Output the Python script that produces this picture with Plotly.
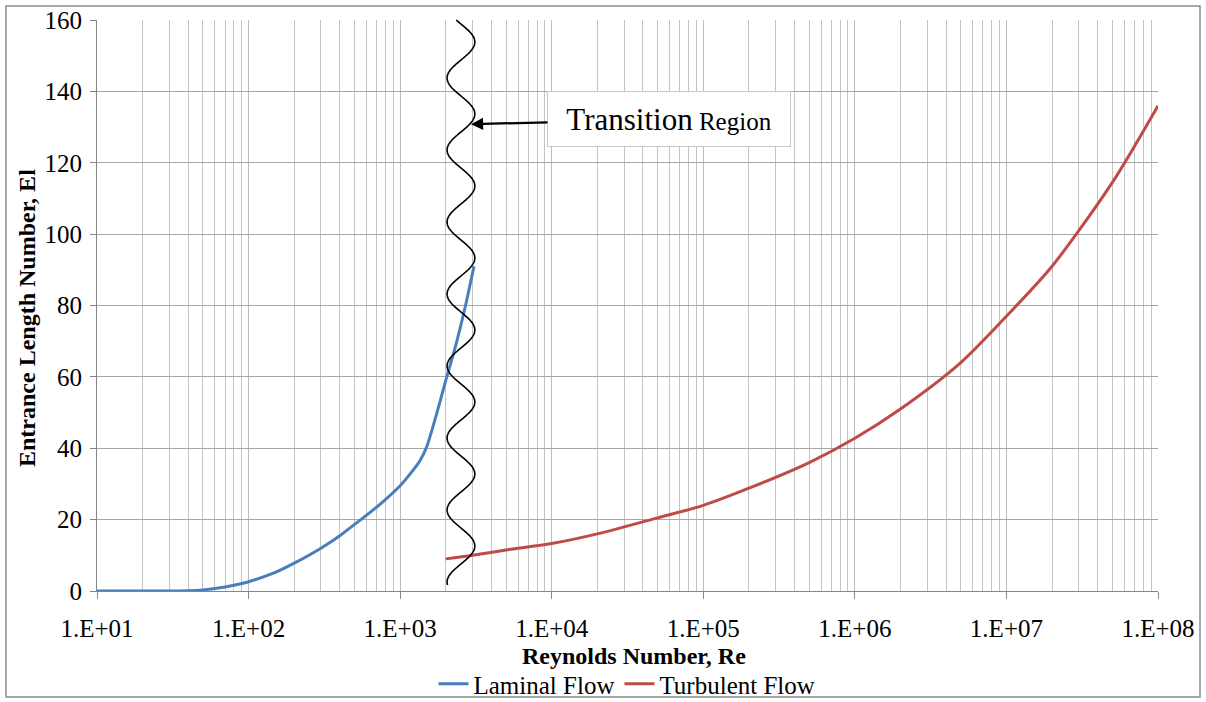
import numpy as np
import plotly.graph_objects as go

# ---------------- data ----------------
laminar_re = [10, 20, 30, 40, 50, 60, 70, 80, 100, 150, 200, 300, 400, 550, 700,
              1000, 1200, 1350, 1500, 1750, 2000, 2300, 2700, 3070]
laminar_el = [0.0, 0.0, 0.0, 0.05, 0.3, 0.7, 1.1, 1.6, 2.6, 5.2, 7.8, 12.0, 15.5,
              20.0, 23.5, 29.5, 33.5, 36.5, 40.5, 50.0, 59.0, 68.0, 80.0, 91.0]

turbulent_re = [2000, 3000, 5000, 1e4, 2e4, 5e4, 1e5, 2e5, 5e5, 1e6, 2e6, 5e6,
                1e7, 2e7, 5e7, 1e8]
turbulent_el = [9.0, 10.0, 11.5, 13.3, 16.0, 20.5, 24.0, 28.8, 36.0, 42.8, 51.0,
                64.0, 77.0, 91.0, 114.5, 136.0]

x_tick_vals = [1e1, 1e2, 1e3, 1e4, 1e5, 1e6, 1e7, 1e8]
x_tick_text = ["1.E+01", "1.E+02", "1.E+03", "1.E+04", "1.E+05", "1.E+06", "1.E+07", "1.E+08"]
y_tick_vals = [0, 20, 40, 60, 80, 100, 120, 140, 160]

x_title = "Reynolds Number, Re"
y_title = "Entrance Length Number, El"

# transition-region wave bounds (Reynolds numbers) and label
transition_lo, transition_hi = 2040, 3110
transition_label = "Transition"
transition_sub = "Region"

# ---------------- layout geometry ----------------
W, H = 1206, 702
ML, MR, MT, MB = 97, 48, 20, 111
PW, PH = W - ML - MR, H - MT - MB

FONT = "Liberation Serif"
TICK_SIZE = 25
TITLE_SIZE = 24

fig = go.Figure()

fig.add_trace(go.Scatter(
    x=laminar_re, y=laminar_el, mode="lines", name="Laminal Flow",
    line=dict(color="#4a7ebb", width=3, shape="spline", smoothing=0.6), hoverinfo="x+y"))
fig.add_trace(go.Scatter(
    x=turbulent_re, y=turbulent_el, mode="lines", name="Turbulent Flow",
    line=dict(color="#be4b48", width=3, shape="spline", smoothing=0.8), hoverinfo="x+y"))

# minor grid positions (2..9 within each decade)
minor_vals = [m * 10 ** d for d in range(1, 8) for m in range(2, 10)]

fig.update_layout(
    width=W, height=H,
    margin=dict(l=ML, r=MR, t=MT, b=MB, pad=0, autoexpand=False),
    paper_bgcolor="white", plot_bgcolor="white",
    font=dict(family=FONT, size=TICK_SIZE, color="black"),
    showlegend=True,
    legend=dict(orientation="h", x=(627 - ML) / PW, xanchor="center",
                y=(MT + PH - 684) / PH, yanchor="middle",
                font=dict(family=FONT, size=25), itemwidth=30, tracegroupgap=0,
                bgcolor="rgba(0,0,0,0)"),
    xaxis=dict(
        type="log", range=[1, 8], automargin=False,
        tickmode="array", tickvals=x_tick_vals, ticktext=x_tick_text,
        ticks="outside", ticklen=7, tickcolor="#868686", tickwidth=1,
        ticklabelstandoff=8,
        showgrid=True, gridcolor="#bdbdbd", gridwidth=1,
        minor=dict(tickmode="array", tickvals=minor_vals, showgrid=True,
                   gridcolor="#c4c4c4", gridwidth=1, ticks=""),
        showline=True, linecolor="#868686", linewidth=1, zeroline=False,
        tickfont=dict(family=FONT, size=TICK_SIZE),
    ),
    yaxis=dict(
        range=[0, 160], tickmode="array", tickvals=y_tick_vals, automargin=False,
        ticks="outside", ticklen=6, tickcolor="#868686", tickwidth=1,
        ticklabelstandoff=3,
        showgrid=True, gridcolor="#a6a6a6", gridwidth=1.4,
        showline=True, linecolor="#868686", linewidth=1, zeroline=False,
        tickfont=dict(family=FONT, size=TICK_SIZE),
    ),
)

# axis titles
fig.add_annotation(text=f"<b>{x_title}</b>", xref="paper", yref="paper",
                   x=(634 - ML) / PW, y=(MT + PH - 656) / PH,
                   xanchor="center", yanchor="middle", showarrow=False,
                   font=dict(family=FONT, size=TITLE_SIZE, color="black"))
fig.add_annotation(text=f"<b>{y_title}</b>", xref="paper", yref="paper",
                   x=(27 - ML) / PW, y=(MT + PH - 318) / PH, textangle=-90,
                   xanchor="center", yanchor="middle", showarrow=False,
                   font=dict(family=FONT, size=TITLE_SIZE, color="black"))

# ---------------- transition wave (decoration, paper coords) ----------------
def px_x(re):
    return (np.log10(re) - 1) / 7.0

xl, xr = px_x(transition_lo), px_x(transition_hi)
xm, amp = (xl + xr) / 2, (xr - xl) / 2
top_px, bot_px, first_peak_px, period_px = 20, 585, 42, 72
ys_px = np.linspace(top_px, bot_px, 500)
xs = xm + amp * np.cos(2 * np.pi * (ys_px - first_peak_px) / period_px)
ys = (MT + PH - ys_px) / PH
path = "M " + " L ".join(f"{a:.5f},{b:.5f}" for a, b in zip(xs, ys))
fig.add_shape(type="path", path=path, xref="paper", yref="paper",
              line=dict(color="black", width=1.6), layer="above")

# outer frame
fig.add_shape(type="rect", xref="paper", yref="paper",
              x0=(6 - ML) / PW, x1=(1200 - ML) / PW,
              y0=(MT + PH - 697) / PH, y1=(MT + PH - 6) / PH,
              line=dict(color="#8c8c8c", width=1.5), layer="below")

# arrow + label box
arrow_re = 10 ** (1 + (471 - ML) / (PW / 7))
fig.add_annotation(
    x=np.log10(arrow_re), y=130.8, xref="x", yref="y",
    text=f"<span style='font-size:31px'>{transition_label}</span>"
         f"<span style='font-size:25px'> {transition_sub}</span>",
    showarrow=True, ax=198, ay=-5, axref="pixel", ayref="pixel",
    arrowhead=2, arrowsize=1.1, arrowwidth=2.2, arrowcolor="black", standoff=0,
    bgcolor="white", bordercolor="#c8c8c8", borderwidth=1, borderpad=3,
    width=236, height=48, align="center", valign="middle",
    font=dict(family=FONT, color="black"),
)

fig.write_html("out.html")
